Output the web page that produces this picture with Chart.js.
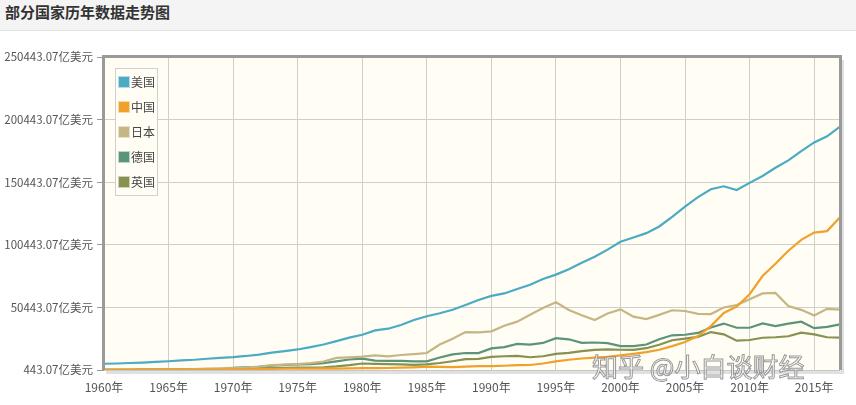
<!DOCTYPE html>
<html>
<head>
<meta charset="utf-8">
<script src="https://cdn.jsdelivr.net/npm/chart.js@4/dist/chart.umd.min.js"></script>
<style>
  html, body { margin: 0; padding: 0; background: #fff; }
  body { width: 856px; height: 405px; position: relative; overflow: hidden; font-family: "Noto Sans CJK SC", sans-serif; }
  #title { position: absolute; left: 0; top: 0; width: 856px; height: 30px; background: #f4f4f4; border-bottom: 1px solid #e0e0e0; }
  #title span { position: absolute; left: 5px; top: 2px; font-size: 15px; font-weight: bold; color: #333; line-height: 20px; }
  #wrap { position: absolute; left: 0; top: 0; width: 856px; height: 405px; }
  #mark { position: absolute; left: 592px; top: 347px; font-size: 26px; color: rgba(255,255,255,0.9); -webkit-text-stroke: 1px rgba(110,110,110,0.7); white-space: nowrap; letter-spacing: 0px; }
</style>
</head>
<body>
<div id="wrap"><canvas id="gdpChart" width="856" height="405"></canvas></div>
<div id="title"><span>部分国家历年数据走势图</span></div>
<div id="mark">知乎 @小白谈财经</div>
<script>
// years 1960 - 2017, values in 亿美元
const years = [];
for (let y = 1960; y <= 2017; y++) years.push(y + '年');

const usa = [5433, 5633, 6051, 6386, 6858, 7437, 8150, 8617, 9425, 10199,
  10737, 11649, 12792, 14253, 15452, 16848, 18734, 20817, 23518, 26274,
  28573, 32076, 33433, 36343, 40370, 43389, 45796, 48553, 52366, 56417,
  59631, 61582, 65200, 68587, 73087, 76640, 81002, 86085, 90891, 96606,
  102848, 106218, 109775, 115106, 122749, 130937, 138559, 144776, 147186, 144187,
  149921, 155426, 161970, 167848, 175217, 182193, 187072, 194854];
const china = [597, 500, 472, 507, 594, 704, 766, 724, 700, 786,
  926, 998, 1137, 1385, 1441, 1634, 1539, 1750, 1495, 1783,
  1911, 1958, 2050, 2303, 2599, 3094, 3008, 2730, 3123, 3478,
  3609, 3834, 4269, 4447, 5643, 7345, 8637, 9615, 10290, 10940,
  12113, 13394, 14706, 16603, 19553, 22860, 27521, 35522, 45982, 51100,
  61006, 75515, 85322, 95704, 104385, 110155, 111379, 122377];
const japan = [443.07, 537, 608, 696, 816, 910, 1059, 1236, 1469, 1723,
  2127, 2404, 3181, 4322, 4797, 5216, 5869, 7211, 10138, 10551,
  11053, 12183, 11345, 12434, 13183, 13988, 20785, 25327, 30716, 30547,
  31328, 35847, 39088, 44545, 49987, 54491, 48336, 44148, 40329, 45620,
  48875, 43035, 41152, 44457, 48151, 47554, 45303, 45152, 50379, 52314,
  57001, 61575, 62032, 51557, 48504, 43895, 49266, 48598];
const germany = [null, null, null, null, null, null, null, null, null, null,
  2157, 2492, 2998, 3984, 4459, 4889, 5195, 6000, 7400, 8818,
  9500, 8003, 7768, 7706, 7261, 7327, 10463, 12955, 14016, 13986,
  17715, 18687, 21311, 20712, 22057, 25854, 24974, 22167, 22420, 21963,
  19477, 19456, 20786, 25052, 28147, 28614, 30024, 34399, 37523, 34180,
  34171, 37577, 35439, 37526, 38985, 33817, 34950, 36932];
const uk = [723, 769, 808, 866, 941, 1005, 1067, 1112, 1047, 1129,
  1309, 1485, 1699, 1928, 2061, 2413, 2321, 2632, 3357, 4385,
  5646, 5400, 5152, 4895, 4616, 4891, 6017, 7455, 9104, 9263,
  10930, 11426, 11797, 10616, 11401, 13355, 14084, 15531, 16449, 16870,
  16616, 16452, 17852, 20576, 24219, 25439, 26941, 30746, 28905, 23829,
  24412, 26196, 26620, 27397, 30229, 28859, 26593, 26378];

const seriesNames = ['美国', '中国', '日本', '德国', '英国'];
const seriesColors = ['#4aabc3', '#f0a12c', '#c6b585', '#5b9478', '#86924f'];
const yTicks = [443.07, 50443.07, 100443.07, 150443.07, 200443.07, 250443.07];
const yTickLabels = ['443.07亿美元', '50443.07亿美元', '100443.07亿美元', '150443.07亿美元', '200443.07亿美元', '250443.07亿美元'];

const FONT = '"Noto Sans CJK SC", sans-serif';
const values = [usa, china, japan, germany, uk];

// plot background + frame
const framePlugin = {
  id: 'frame',
  beforeDraw(chart) {
    const a = chart.chartArea, c = chart.ctx;
    c.save();
    c.fillStyle = '#fffdf4';
    c.fillRect(a.left, a.top, a.right - a.left, a.bottom - a.top);
    c.restore();
  },
  afterDraw(chart) {
    const a = chart.chartArea, c = chart.ctx;
    c.save();
    // shadow on right and bottom
    c.strokeStyle = 'rgba(0,0,0,0.12)';
    c.lineWidth = 3;
    c.beginPath();
    c.moveTo(a.right + 2.5, a.top + 3);
    c.lineTo(a.right + 2.5, a.bottom + 2.5);
    c.lineTo(a.left + 2, a.bottom + 2.5);
    c.stroke();
    c.strokeStyle = '#9a9a9a';
    c.lineWidth = 3;
    c.beginPath();
    c.moveTo(a.left - 0.5, a.bottom + 1);
    c.lineTo(a.left - 0.5, a.top - 0.5);
    c.lineTo(a.right + 0.5, a.top - 0.5);
    c.lineTo(a.right + 0.5, a.bottom);
    c.stroke();
    c.strokeStyle = '#c8c8c8';
    c.lineWidth = 1;
    c.beginPath();
    c.moveTo(a.left, a.bottom + 0.5);
    c.lineTo(a.right, a.bottom + 0.5);
    c.stroke();

    // legend box
    const lx = 115, ly = 68;
    c.strokeStyle = '#d0d0d0';
    c.lineWidth = 1;
    c.fillStyle = '#fffdf4';
    c.fillRect(lx, ly, 42, 127);
    c.strokeRect(lx + 0.5, ly + 0.5, 42, 127);
    c.font = '12px ' + FONT;
    c.textBaseline = 'middle';
    chart.data.datasets.forEach((ds, i) => {
      const cy = 82 + i * 25;
      c.fillStyle = ds.borderColor;
      c.fillRect(118, cy - 6, 12, 12);
      c.strokeStyle = 'rgba(255,255,255,0.6)';
      c.strokeRect(118.5, cy - 5.5, 11, 11);
      c.fillStyle = '#444';
      c.fillText(ds.label, 131, cy);
    });
    c.restore();
  }
};

const ctx = document.getElementById('gdpChart').getContext('2d');
const gdpChart = new Chart(ctx, {
  type: 'line',
  data: {
    labels: years,
    datasets: seriesNames.map((name, i) => ({
      label: name,
      data: values[i],
      borderColor: seriesColors[i],
      backgroundColor: seriesColors[i],
      borderWidth: 2.2,
      pointRadius: 0,
      tension: 0,
      fill: false
    }))
  },
  options: {
    responsive: false,
    animation: false,
    layout: { padding: { left: 0, right: 16, top: 57, bottom: 0 } },
    plugins: {
      legend: { display: false },
      tooltip: { enabled: false }
    },
    scales: {
      x: {
        grid: {
          color: c => (c.index % 5 === 0 ? '#cfcfcb' : 'rgba(0,0,0,0)'),
          drawTicks: false
        },
        border: { display: false },
        ticks: {
          autoSkip: false,
          maxRotation: 0,
          padding: 10,
          color: '#555',
          font: { size: 12, family: FONT },
          callback: (v, i) => (i % 5 === 0 ? years[i] : '')
        },
        afterFit: s => { s.height = 35; }
      },
      y: {
        min: 443.07,
        max: 250443.07,
        afterBuildTicks: s => { s.ticks = yTicks.map(v => ({ value: v })); },
        grid: { color: '#cfcfcb', tickColor: '#999', tickLength: 7 },
        border: { display: false },
        ticks: {
          padding: 4,
          color: '#555',
          font: { size: 11.5, family: FONT },
          callback: (v, i) => yTickLabels[i]
        },
        afterFit: s => { s.width = 104; }
      }
    }
  },
  plugins: [framePlugin]
});
</script>
</body>
</html>
